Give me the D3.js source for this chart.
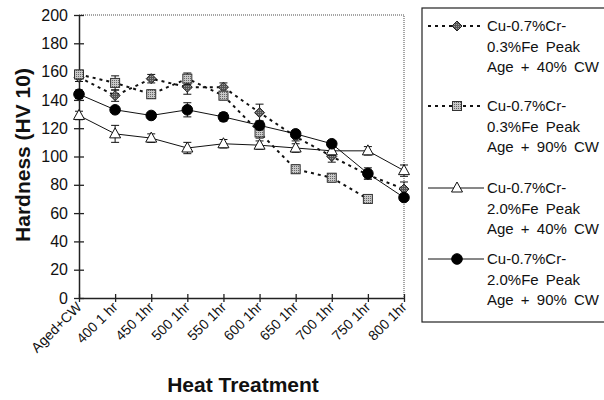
<!DOCTYPE html>
<html>
<head>
<meta charset="utf-8">
<script src="https://cdn.jsdelivr.net/npm/d3@7"></script>
<style>
  html, body { margin: 0; padding: 0; background: #fff; }
  svg { display: block; }
  svg text { font-family: "Liberation Sans", Arial, sans-serif; }
</style>
</head>
<body>
<svg id="chart" width="604" height="400"></svg>
<script>
// Heat treatment steps
const categories = ["Aged+CW", "400 1 hr", "450 1hr", "500 1hr", "550 1hr", "600 1hr", "650 1hr", "700 1hr", "750 1hr", "800 1hr"];

// Hardness (HV 10) per alloy condition, with error bar half-widths
const cr03Fe40 = [156, 143, 155, 149, 149, 131, 114, 100, 87, 77];
const cr03Fe40Err = [3, 4, 3, 5, 3, 6, 3, 4, 3, 5];
const cr03Fe90 = [158, 152, 144, 155, 143, 117, 91, 85, 70, null];
const cr03Fe90Err = [3, 5, 3, 4, 3, 4, 3, 3, 2, null];
const cr20Fe40 = [129, 116, 113, 106, 109, 108, 106, 104, 104, 90];
const cr20Fe40Err = [3, 6, 3, 4, 3, 3, 3, 3, 3, 4];
const cr20Fe90 = [144, 133, 129, 133, 128, 122, 116, 109, 88, 71];
const cr20Fe90Err = [3, 2, 2, 5, 3, 3, 2, 2, 4, 2];

const yTicks = [0, 20, 40, 60, 80, 100, 120, 140, 160, 180, 200];

const legendLabels = [
  ["Cu-0.7%Cr-", "0.3%Fe Peak", "Age + 40% CW"],
  ["Cu-0.7%Cr-", "0.3%Fe Peak", "Age + 90% CW"],
  ["Cu-0.7%Cr-", "2.0%Fe Peak", "Age + 40% CW"],
  ["Cu-0.7%Cr-", "2.0%Fe Peak", "Age + 90% CW"]
];

const series = [
  { values: cr03Fe40, err: cr03Fe40Err, marker: "diamond", dash: "3,4", width: 2 },
  { values: cr03Fe90, err: cr03Fe90Err, marker: "square", dash: "3,4", width: 2 },
  { values: cr20Fe40, err: cr20Fe40Err, marker: "triangle", dash: null, width: 1 },
  { values: cr20Fe90, err: cr20Fe90Err, marker: "circle", dash: null, width: 1 }
];

const svg = d3.select("#chart");
const plotLeft = 79, plotRight = 404, plotTop = 15, plotBottom = 298;

const x = d3.scalePoint().domain(categories).range([plotLeft, plotRight]).padding(0);
const y = d3.scaleLinear().domain([0, 200]).range([plotBottom, plotTop]);

// Pattern fills for the square and diamond markers
const defs = svg.append("defs");
const pat = defs.append("pattern").attr("id", "sqfill").attr("width", 2).attr("height", 2)
  .attr("patternUnits", "userSpaceOnUse");
pat.append("rect").attr("width", 2).attr("height", 2).attr("fill", "#c8c8c8");
pat.append("rect").attr("width", 1).attr("height", 1).attr("fill", "#666");
const pat2 = defs.append("pattern").attr("id", "dmfill").attr("width", 2).attr("height", 2)
  .attr("patternUnits", "userSpaceOnUse");
pat2.append("rect").attr("width", 2).attr("height", 2).attr("fill", "#555");
pat2.append("rect").attr("width", 1).attr("height", 1).attr("fill", "#999");

// Dotted frame on top and right of the plot area
svg.append("path")
  .attr("d", `M${plotLeft},${plotTop}H${plotRight}V${plotBottom}`)
  .attr("fill", "none").attr("stroke", "#888").attr("stroke-width", 1.5)
  .attr("stroke-dasharray", "1,1");

// Y axis
const yAxis = d3.axisLeft(y).tickValues(yTicks).tickSizeInner(5).tickSizeOuter(0).tickPadding(4);
const gy = svg.append("g").attr("transform", `translate(${plotLeft},0)`).call(yAxis);
gy.attr("font-family", null);
gy.select(".domain").attr("stroke", "#222").attr("stroke-width", 1.5);
gy.selectAll(".tick line").attr("x2", 5).attr("x1", -5).attr("stroke", "#222").attr("stroke-width", 1.3);
gy.selectAll(".tick text").attr("x", -11).attr("font-size", 16).attr("fill", "#111");

// X axis
const xAxis = d3.axisBottom(x).tickSizeInner(4).tickSizeOuter(0).tickPadding(6);
const gx = svg.append("g").attr("transform", `translate(0,${plotBottom})`).call(xAxis);
gx.attr("font-family", null);
gx.select(".domain").attr("stroke", "#222").attr("stroke-width", 1.5);
gx.selectAll(".tick line").attr("y1", -4).attr("y2", 4).attr("stroke", "#222").attr("stroke-width", 1.3);
gx.selectAll(".tick text")
  .attr("font-size", 14).attr("fill", "#111")
  .attr("text-anchor", "end").attr("dy", 0).attr("y", 0)
  .attr("transform", "translate(3,10) rotate(-45)");

// Axis titles
svg.append("text").attr("transform", "translate(30,155) rotate(-90)")
  .attr("text-anchor", "middle").attr("font-size", 21).attr("font-weight", "bold")
  .attr("fill", "#111").text("Hardness (HV 10)");
svg.append("text").attr("x", 243).attr("y", 392)
  .attr("text-anchor", "middle").attr("font-size", 21).attr("font-weight", "bold")
  .attr("fill", "#111").text("Heat Treatment");

function drawMarker(g, type, cx, cy) {
  if (type === "diamond") {
    g.append("path").attr("d", `M${cx},${cy - 5}L${cx + 5},${cy}L${cx},${cy + 5}L${cx - 5},${cy}Z`)
      .attr("fill", "url(#dmfill)").attr("stroke", "#222").attr("stroke-width", 1);
  } else if (type === "square") {
    g.append("rect").attr("x", cx - 4.5).attr("y", cy - 4.5).attr("width", 9).attr("height", 9)
      .attr("fill", "url(#sqfill)").attr("stroke", "#333").attr("stroke-width", 1);
  } else if (type === "triangle") {
    g.append("path").attr("d", `M${cx},${cy - 6}L${cx + 5.5},${cy + 4}L${cx - 5.5},${cy + 4}Z`)
      .attr("fill", "#fff").attr("stroke", "#111").attr("stroke-width", 1);
  } else {
    g.append("circle").attr("cx", cx).attr("cy", cy).attr("r", 5.3)
      .attr("fill", "#000").attr("stroke", "#000");
  }
}

const plot = svg.append("g");
series.forEach(s => {
  const pts = categories.map((c, i) => ({ c, v: s.values[i], e: s.err[i] })).filter(d => d.v != null);
  const line = d3.line().x(d => x(d.c)).y(d => y(d.v));
  plot.append("path").datum(pts).attr("d", line)
    .attr("fill", "none").attr("stroke", "#111").attr("stroke-width", s.width)
    .attr("stroke-dasharray", s.dash);
});
series.forEach(s => {
  const g = plot.append("g");
  categories.forEach((c, i) => {
    const v = s.values[i];
    if (v == null) return;
    const e = s.err[i];
    const cx = x(c);
    g.append("line").attr("x1", cx).attr("x2", cx).attr("y1", y(v - e)).attr("y2", y(v + e))
      .attr("stroke", "#111").attr("stroke-width", 1);
    [v - e, v + e].forEach(t => g.append("line").attr("x1", cx - 4).attr("x2", cx + 4)
      .attr("y1", y(t)).attr("y2", y(t)).attr("stroke", "#111").attr("stroke-width", 1));
    drawMarker(g, s.marker, cx, y(v));
  });
});

// Legend
const lg = svg.append("g");
lg.append("rect").attr("x", 422).attr("y", 8).attr("width", 200).attr("height", 314)
  .attr("fill", "#fff").attr("stroke", "#222").attr("stroke-width", 1.2);
const entryTop = [26, 106, 188, 259];
series.forEach((s, i) => {
  const ly = entryTop[i];
  lg.append("line").attr("x1", 428).attr("x2", 484).attr("y1", ly).attr("y2", ly)
    .attr("stroke", "#111").attr("stroke-width", s.width).attr("stroke-dasharray", s.dash);
  drawMarker(lg, s.marker, 457, ly);
  const t = lg.append("text").attr("x", 487).attr("y", ly + 5).attr("font-size", 15)
    .attr("fill", "#111").attr("word-spacing", 3);
  legendLabels[i].forEach((line, k) => {
    t.append("tspan").attr("x", 487).attr("dy", k === 0 ? 0 : 20.5).text(line);
  });
});
</script>
</body>
</html>
